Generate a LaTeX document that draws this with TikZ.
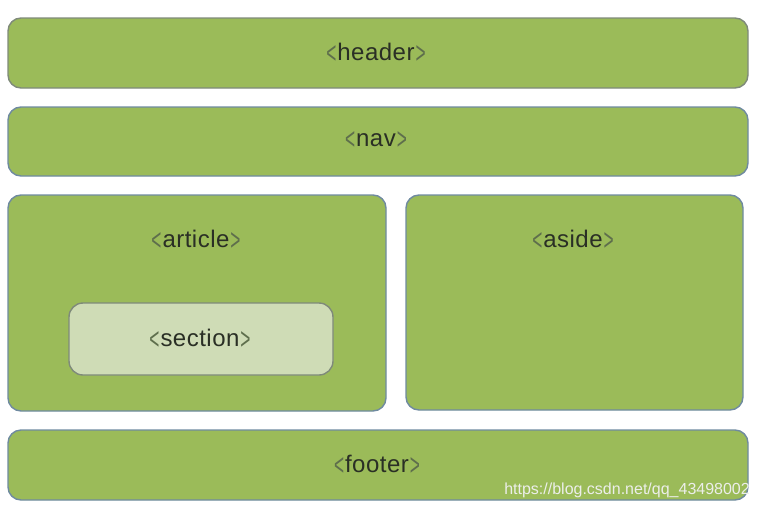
\documentclass[tikz,border=0pt]{standalone}
\usepackage{fontspec}
\usepackage{graphicx}
\setmainfont{Liberation Sans}
\newfontfamily\lblfont[LetterSpace=2]{Liberation Sans}
\definecolor{boxgreen}{HTML}{9BBB59}
\definecolor{secgreen}{HTML}{CFDCB6}
\definecolor{edgegray}{HTML}{7F8A7A}
\definecolor{edgeblue}{HTML}{6F8AA0}
\definecolor{txtdark}{HTML}{2A2F25}
\definecolor{brk}{HTML}{5E6E4C}
\definecolor{wm}{HTML}{ECEEEA}
\tikzset{
  panel/.style={draw=edgeblue, line width=1.4pt, fill=boxgreen, rounded corners=13pt},
  grayedge/.style={draw=edgegray},
  secbox/.style={draw=edgegray, line width=1.4pt, fill=secgreen, rounded corners=14pt},
  lbl/.style={font=\lblfont\fontsize{24}{28}\selectfont, text=txtdark, inner sep=0pt},
}
\newcommand{\lbrk}{\textcolor{brk}{\raisebox{-3pt}{\scalebox{0.72}[1.28]{\fontsize{24}{28}\selectfont\rmfamily <}}}}
\newcommand{\rbrk}{\textcolor{brk}{\raisebox{-3pt}{\scalebox{0.72}[1.28]{\fontsize{24}{28}\selectfont\rmfamily >}}}}
\newcommand{\tagtxt}[1]{\lbrk\hspace{1pt}#1\hspace{1pt}\rbrk}
\begin{document}
\begin{tikzpicture}[x=1pt,y=-1pt]
\useasboundingbox (0,0) rectangle (760,509);
\draw[panel,grayedge] (8,18) rectangle (748,88);
\draw[panel] (8,107) rectangle (748,176);
\draw[panel] (8,195) rectangle (386,411);
\draw[panel] (406,195) rectangle (743,410);
\draw[secbox] (69,303) rectangle (333,375);
\draw[panel] (8,430) rectangle (748,500);
\node[lbl] (header) at (376,53) {\tagtxt{header}};
\node[lbl] (nav) at (376,141) {\tagtxt{nav}};
\node[lbl] (article) at (196,240) {\tagtxt{article}};
\node[lbl] (aside) at (573,240) {\tagtxt{aside}};
\node[lbl] (section) at (200,339) {\tagtxt{section}};
\node[lbl] (footer) at (377,465) {\tagtxt{footer}};
\node[font=\fontsize{16}{18}\selectfont, text=wm, inner sep=0pt, anchor=east] (wmark) at (750,490) {https://blog.csdn.net/qq\_43498002};
\end{tikzpicture}
\end{document}
